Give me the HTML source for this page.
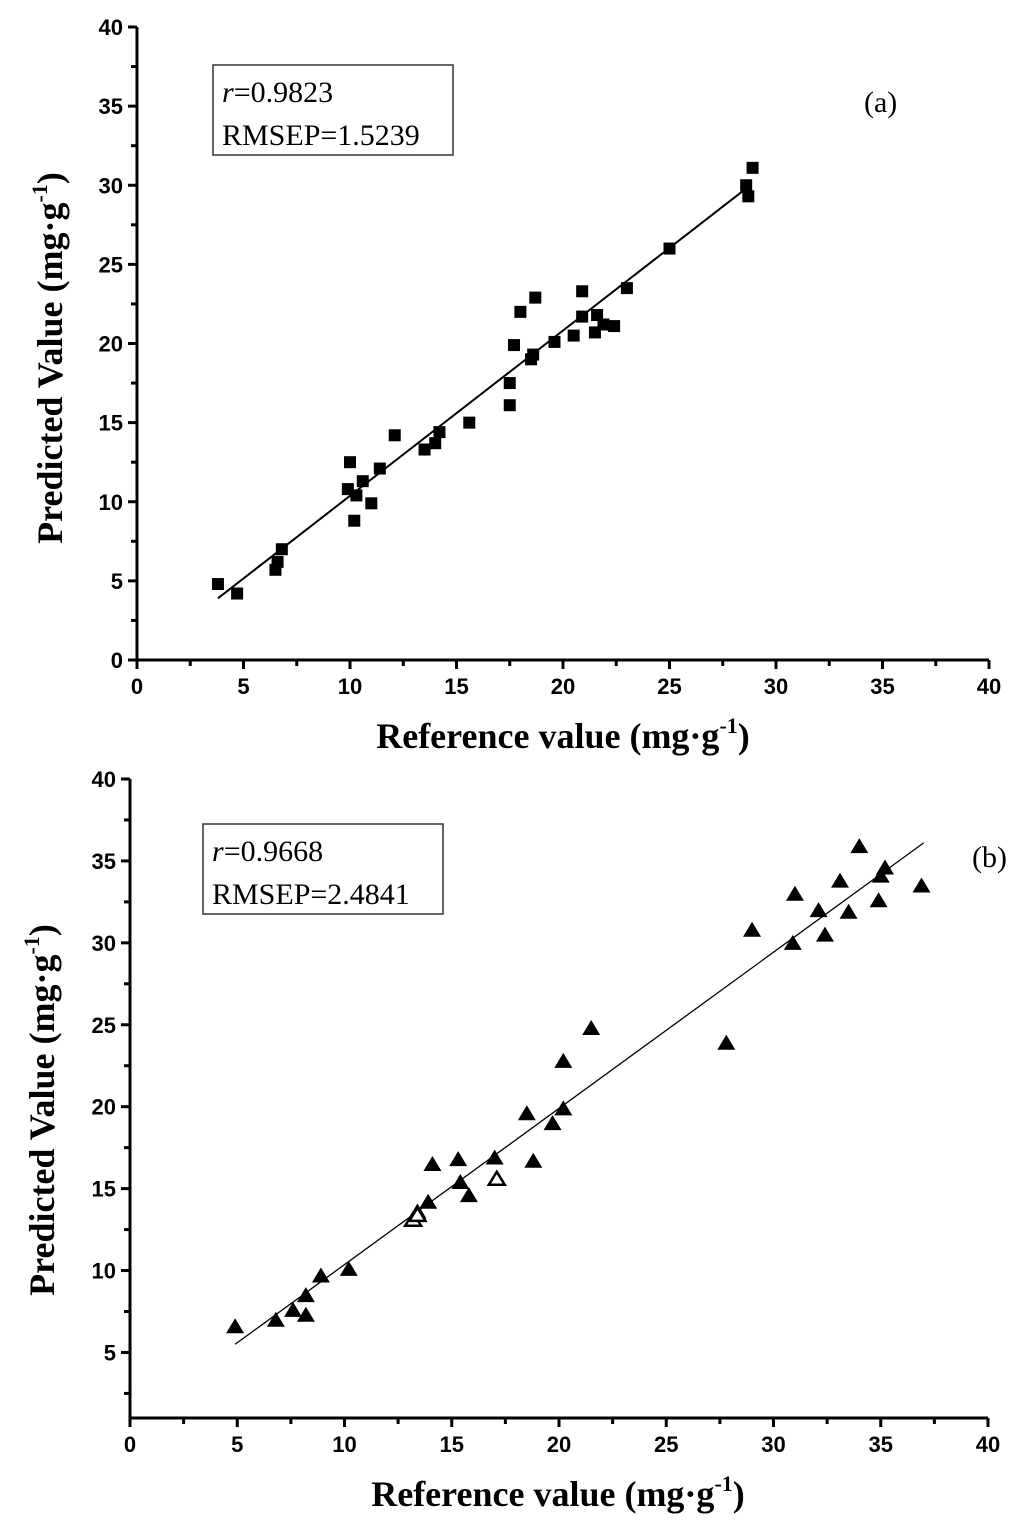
<!DOCTYPE html>
<html><head><meta charset="utf-8"><style>
body{margin:0;background:#fff}
svg{display:block}
.tk{font-family:"Liberation Sans",sans-serif;font-weight:bold;font-size:22px}
.tt{font-family:"Liberation Serif",serif;font-weight:bold;font-size:36px}
.lg{font-family:"Liberation Serif",serif;font-size:30px}
</style></head><body>
<svg id="svg" width="1024" height="1526" viewBox="0 0 1024 1526" xmlns="http://www.w3.org/2000/svg"></svg>
<script>
const xTicks=[0,5,10,15,20,25,30,35,40];
const yTicksA=[0,5,10,15,20,25,30,35,40];
const yTicksB=[5,10,15,20,25,30,35,40];
const aX=[3.8,4.7,6.5,6.6,6.8,9.9,10.0,10.2,10.3,10.6,11.0,11.4,12.1,13.5,14.0,14.2,15.6,17.5,17.5,17.7,18.0,18.5,18.6,18.7,19.6,20.5,20.9,20.9,21.5,21.6,21.9,22.4,23.0,25.0,28.6,28.7,28.9];
const aY=[4.8,4.2,5.7,6.2,7.0,10.8,12.5,8.8,10.4,11.3,9.9,12.1,14.2,13.3,13.7,14.4,15.0,16.1,17.5,19.9,22.0,19.0,19.3,22.9,20.1,20.5,23.3,21.7,20.7,21.8,21.2,21.1,23.5,26.0,30.0,29.3,31.1];
const aLine=[[3.8,3.9],[28.6,29.8]];
const bX=[4.9,6.8,7.6,8.2,8.2,8.9,10.2,13.4,13.9,14.1,15.3,15.4,15.8,17.0,18.5,18.8,19.7,20.2,20.2,21.5,27.8,29.0,30.9,31.0,32.1,32.4,33.1,33.5,34.0,34.9,35.0,35.2,36.9];
const bY=[6.6,7.0,7.6,8.5,7.3,9.7,10.1,13.6,14.2,16.5,16.8,15.4,14.6,16.9,19.6,16.7,19.0,22.8,19.9,24.8,23.9,30.8,30.0,33.0,32.0,30.5,33.8,31.9,35.9,32.6,34.1,34.6,33.5];
const bOpenX=[13.2,13.4,17.1];
const bOpenY=[13.1,13.4,15.6];
const bLine=[[4.9,5.5],[37,36.1]];
const NS="http://www.w3.org/2000/svg",svg=document.getElementById('svg');
function el(t,a,p){const e=document.createElementNS(NS,t);for(const k in a)e.setAttribute(k,a[k]);(p||svg).appendChild(e);return e;}
function panel(cfg){
 const g=el('g',{});
 
 
 const sx=v=>cfg.x0+(v-cfg.xmin)*(cfg.x1-cfg.x0)/(cfg.xmax-cfg.xmin);
 const sy=v=>cfg.y0-(v-cfg.ymin)*(cfg.y0-cfg.y1)/(cfg.ymax-cfg.ymin);
 const ax=el('path',{d:`M${cfg.x0} ${sy(cfg.ymax)}V${cfg.y0}H${sx(40)}`,stroke:'#000','stroke-width':3,fill:'none'},g);
 
 xTicks.forEach((t,i)=>{const x=sx(t);
  el('line',{x1:x,x2:x,y1:cfg.y0,y2:cfg.y0+9,stroke:'#000','stroke-width':3},g);
  if(i<xTicks.length-1){const xm=sx(t+2.5);el('line',{x1:xm,x2:xm,y1:cfg.y0,y2:cfg.y0+6,stroke:'#000','stroke-width':3},g);}
  const tx=el('text',{x:x,y:cfg.y0+34,'text-anchor':'middle',class:'tk'},g);tx.textContent=t;
  });
 cfg.yt.forEach(t=>{const y=sy(t);
  el('line',{x1:cfg.x0-9,x2:cfg.x0,y1:y,y2:y,stroke:'#000','stroke-width':3},g);
  if(t-2.5>cfg.ymin){const ym=sy(t-2.5);el('line',{x1:cfg.x0-6,x2:cfg.x0,y1:ym,y2:ym,stroke:'#000','stroke-width':3},g);}
  const tx=el('text',{x:cfg.x0-14,y:y+8,'text-anchor':'end',class:'tk'},g);tx.textContent=t;
  });
 const ln=el('line',{x1:sx(cfg.line[0][0]),y1:sy(cfg.line[0][1]),x2:sx(cfg.line[1][0]),y2:sy(cfg.line[1][1]),stroke:'#000','stroke-width':cfg.lw},g);
 
 cfg.xs.forEach((v,i)=>{const x=sx(v),y=sy(cfg.ys[i]);let m;
  if(cfg.tri) m=el('polygon',{points:`${x},${y-8} ${x-9},${y+7} ${x+9},${y+7}`,fill:'#000'},g);
  else m=el('rect',{x:x-6,y:y-6,width:12,height:12,fill:'#000'},g);
  });
 (cfg.ox||[]).forEach((v,i)=>{const x=sx(v),y=sy(cfg.oy[i]);
  const m=el('polygon',{points:`${x},${y-7} ${x-8},${y+6} ${x+8},${y+6}`,fill:'#fff',stroke:'#000','stroke-width':2.5},g);
  });
 const bx=el('rect',{x:cfg.box[0],y:cfg.box[1],width:240,height:90,fill:'#fff',stroke:'#333','stroke-width':1.5},g);
 
 const t1=el('text',{x:cfg.box[0]+9,y:cfg.box[1]+37,class:'lg'},g);
 t1.innerHTML='<tspan font-style="italic">r</tspan>='+cfg.r;
 
 const t2=el('text',{x:cfg.box[0]+9,y:cfg.box[1]+80,class:'lg'},g);t2.textContent='RMSEP='+cfg.rmsep;
 
 const pl=el('text',{x:cfg.lab[0],y:cfg.lab[1],class:'lg'},g);pl.textContent=cfg.label;
 
 const xt=el('text',{x:cfg.xtx,y:cfg.y0+88,'text-anchor':'middle',class:'tt'},g);
 xt.innerHTML='Reference value (mg·g<tspan dy="-15" font-size="22">-1</tspan><tspan dy="15">)</tspan>';
 
 const yt=el('text',{x:0,y:0,'text-anchor':'middle',class:'tt',transform:`translate(${cfg.yx},${cfg.ytc}) rotate(-90)`},g);
 yt.innerHTML='Predicted Value (mg·g<tspan dy="-15" font-size="22">-1</tspan><tspan dy="15">)</tspan>';
 
}
panel({name:'chart-a',x0:137,x1:989,xmin:0,xmax:40,y0:660,y1:27,ymin:0,ymax:40,yt:yTicksA,xs:aX,ys:aY,line:aLine,lw:2,tri:false,box:[213,65],r:'0.9823',rmsep:'1.5239',label:'(a)',lab:[864,112],yx:62,ytc:358,xtx:563});
panel({name:'chart-b',x0:130,x1:988,xmin:0,xmax:40,y0:1418,y1:779,ymin:1,ymax:40,yt:yTicksB,xs:bX,ys:bY,ox:bOpenX,oy:bOpenY,line:bLine,lw:1.3,tri:true,box:[203,824],r:'0.9668',rmsep:'2.4841',label:'(b)',lab:[972,867],yx:54,ytc:1110,xtx:558});
</script>
</body></html>
